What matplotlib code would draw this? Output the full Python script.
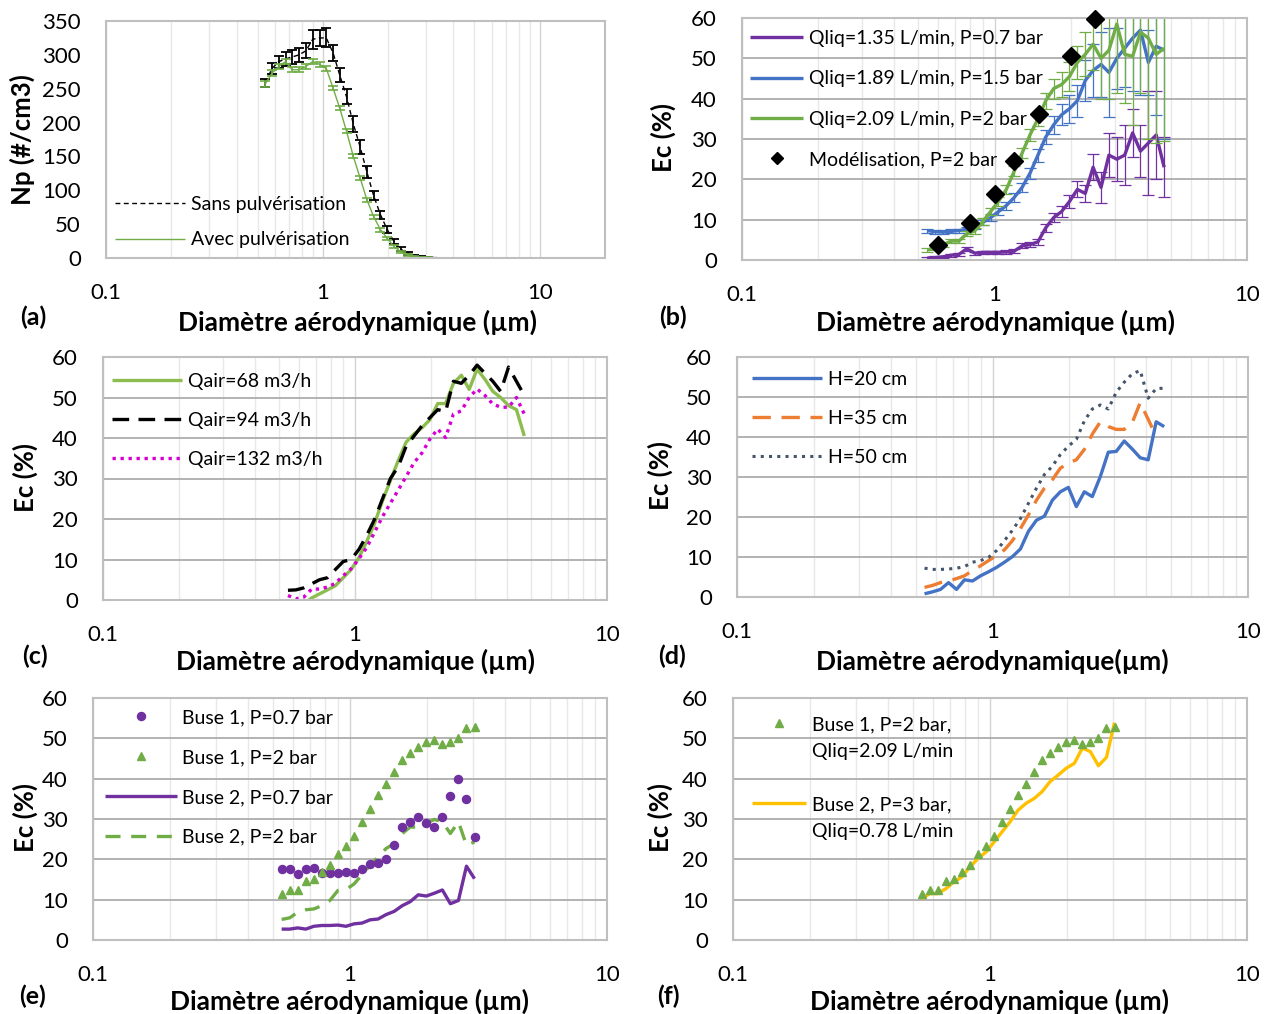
import numpy as np
import matplotlib
matplotlib.use('Agg')
import matplotlib.pyplot as plt
from matplotlib.lines import Line2D
from matplotlib.ticker import FixedLocator, LogLocator, NullFormatter, FuncFormatter

# APS size channels (µm)
diam = [0.542, 0.583, 0.626, 0.673, 0.723, 0.777, 0.835, 0.898, 0.965, 1.037,
        1.114, 1.197, 1.286, 1.382, 1.486, 1.596, 1.715, 1.843, 1.981, 2.129,
        2.288, 2.458, 2.642, 2.839, 3.051, 3.278, 3.523, 3.786, 4.068, 4.371, 4.698]
diam_tail = [5.048, 5.425, 5.829, 6.264, 6.732, 7.234, 7.774, 8.354, 8.977, 9.647,
             10.37, 11.14, 11.97, 12.86, 13.82, 14.86, 15.96, 17.15]

# (a) number concentration
np_sans = [258, 280, 290, 294, 297, 300, 306, 323, 325, 325, 303, 270, 238, 198, 164,
           127, 92, 64, 42, 24, 13, 7, 3.5, 1.8, 1.0,
           0.6, 0.4, 0.3, 0.2, 0.15, 0.1, 0.08, 0.06, 0.05, 0.04, 0.03, 0.03, 0.02,
           0.02, 0.02, 0.01, 0.01, 0.01, 0.01, 0.01, 0, 0, 0, 0]
np_avec = [257, 273, 283, 290, 278, 278, 283, 290, 286, 280, 251, 221, 187, 150, 118,
           86, 61, 42, 29, 17, 9, 5, 2.5, 1.2, 0.6,
           0.4, 0.3, 0.2, 0.15, 0.1, 0.08, 0.06, 0.05, 0.04, 0.03, 0.03, 0.02, 0.02,
           0.02, 0.01, 0.01, 0.01, 0.01, 0.01, 0, 0, 0, 0, 0]
err_sans = [6, 8, 9, 10, 10, 10, 11, 14, 12, 14, 12, 10, 11, 12, 10, 9, 7, 6, 5, 4,
            3, 2, 1.5, 1, 0.8]
err_avec = [5, 4, 4, 4, 4, 4, 4, 4, 4, 4, 3, 3, 3, 3, 3, 3, 3, 3, 2.5, 2, 2, 1.5, 1,
            0.8, 0.5]

# (b) liquid flow / pressure
ec_q135 = [0.5, 0.6, 0.8, 1.2, 1.4, 2.8, 1.7, 1.9, 1.9, 1.9, 2.0, 2.2, 3.5, 3.8, 4.5,
           8.0, 10.5, 12.0, 14.5, 17.5, 16.5, 23.0, 18.0, 26.0, 25.0, 26.0, 31.5,
           27.0, 29.0, 31.0, 23.0]
err_q135 = [0.3, 0.3, 0.3, 0.4, 0.4, 0.5, 0.4, 0.4, 0.4, 0.4, 0.4, 0.5, 0.6, 0.6, 0.8,
            1.0, 1.2, 1.4, 1.6, 2.0, 2.2, 3.2, 3.8, 5.5, 5.5, 7.5, 6.0, 6.5, 13.0,
            11.0, 7.5]
ec_q189 = [7.3, 7.0, 6.9, 7.1, 7.3, 7.6, 8.2, 9.3, 10.5, 12.0, 13.5, 15.5, 18.0, 21.5,
           26.0, 30.5, 33.5, 36.0, 37.5, 39.5, 44.5, 47.0, 48.5, 46.5, 50.0, 52.5,
           55.0, 57.0, 49.0, 53.0, 52.0]
err_q189 = [0.5, 0.5, 0.5, 0.5, 0.5, 0.5, 0.6, 0.7, 0.8, 0.9, 1.0, 1.1, 1.2, 1.4, 1.6,
            1.8, 2.2, 2.6, 3.5, 4.0, 5.0, 6.5, 8.0, 11.0, 7.5, 9.5, 13.0, 16.0, 8.0,
            17.0, 22.0]
ec_q209 = [2.5, 2.8, 3.8, 4.7, 4.7, 6.5, 7.2, 9.5, 12.0, 14.5, 17.5, 22.0, 26.5, 31.0,
           35.0, 39.5, 42.5, 43.5, 45.5, 49.0, 51.0, 53.5, 50.0, 52.0, 58.5, 51.0,
           50.5, 56.5, 55.0, 51.0, 52.5]
err_q209 = [0.4, 0.4, 0.5, 0.5, 0.6, 0.6, 0.7, 0.8, 0.9, 1.0, 1.1, 1.2, 1.3, 1.5, 1.7,
            2.0, 2.5, 3.0, 3.5, 4.0, 5.5, 6.5, 10.0, 12.0, 17.0, 12.0, 17.0, 15.0,
            25.0, 22.0, 23.0]
model_d = [0.6, 0.8, 1.0, 1.2, 1.5, 2.0, 2.5]
model_ec = [3.6, 9.1, 16.4, 24.6, 36.2, 50.7, 59.8]

# (c) air flow
ec_air68 = [-3.0, -2.5, -1.0, 0.5, 1.5, 2.5, 3.5, 5.5, 7.5, 10.5, 14.5, 19.0, 24.5,
            29.5, 34.5, 39.0, 41.0, 42.5, 44.5, 48.5, 48.5, 53.5, 55.5, 52.0, 57.0,
            54.5, 51.5, 50.0, 48.0, 47.0, 40.5]
ec_air94 = [2.4, 2.5, 3.0, 4.0, 5.0, 5.5, 7.5, 9.5, 10.0, 12.5, 16.0, 20.0, 25.0, 30.0,
            33.0, 38.0, 40.5, 43.0, 45.0, 47.0, 46.5, 54.0, 53.5, 55.5, 58.0, 56.0,
            54.0, 51.5, 57.5, 54.0, 50.5]
ec_air132 = [1.1, 0.3, 0.7, 2.7, 2.7, 3.2, 4.1, 6.0, 7.7, 10.2, 13.0, 16.8, 20.6, 23.9,
             27.2, 30.5, 33.9, 36.3, 39.7, 42.2, 40.1, 45.9, 46.7, 50.0, 52.1, 50.5,
             48.4, 47.6, 47.6, 50.0, 45.9]

# (d) height
ec_h20 = [0.8, 1.3, 1.9, 3.6, 1.9, 4.3, 4.0, 5.3, 6.3, 7.4, 8.7, 10.1, 12.0, 16.4, 19.2,
          20.2, 24.2, 26.3, 27.4, 22.6, 26.3, 25.1, 30.1, 36.2, 36.4, 39.0, 37.0,
          34.8, 34.3, 43.8, 42.6]
ec_h35 = [2.4, 2.9, 3.6, 4.0, 4.6, 5.3, 6.6, 7.8, 9.1, 10.4, 11.8, 14.1, 17.1, 20.5,
          24.2, 27.2, 29.3, 32.2, 33.5, 34.3, 36.9, 40.7, 43.8, 42.6, 41.9, 41.9,
          43.6, 48.6, 44.4, 40.2, np.nan]
ec_h50 = [7.2, 6.9, 6.9, 7.0, 7.2, 7.6, 8.7, 9.1, 9.9, 11.6, 14.1, 16.7, 19.6, 23.4,
          27.2, 30.6, 32.7, 35.6, 37.7, 39.4, 44.0, 47.0, 48.0, 47.0, 51.2, 53.7,
          55.8, 56.6, 49.7, 52.1, 52.2]

# (e) and (f) nozzles (first 25 channels)
ec_b1_07 = [17.5, 17.5, 16.4, 17.5, 17.9, 16.6, 16.6, 16.6, 16.8, 16.6, 17.5, 18.8,
            19.1, 20.2, 23.5, 28.0, 29.3, 30.4, 29.1, 28.0, 30.4, 35.7, 40.0, 34.9, 25.6]
ec_b1_2 = [11.5, 12.4, 12.5, 14.6, 15.2, 16.8, 18.5, 21.2, 23.2, 25.9, 29.3, 32.5, 35.9,
           38.8, 41.6, 44.6, 46.3, 47.8, 49.0, 49.6, 48.7, 49.0, 50.0, 52.5, 52.7]
ec_b2_07 = [2.7, 2.7, 3.0, 2.7, 3.4, 3.6, 3.6, 3.7, 3.4, 4.0, 4.2, 5.0, 5.2, 6.3, 7.1,
            8.5, 9.5, 11.2, 10.9, 11.6, 12.4, 9.0, 9.8, 18.3, 15.2]
ec_b2_2 = [5.1, 5.5, 6.9, 7.5, 7.7, 8.5, 9.8, 12.3, 12.5, 13.9, 16.2, 18.5, 20.6, 22.7,
           23.9, 26.4, 28.0, 28.0, 28.9, 29.9, 29.3, 26.4, 29.3, 23.5, 24.3]
ec_b2_3 = [10.2, 11.5, 11.5, 12.7, 14.4, 15.6, 18.1, 20.2, 21.8, 24.3, 26.8, 29.3, 32.2,
           33.9, 35.1, 36.8, 39.3, 40.9, 42.6, 43.8, 47.6, 46.7, 43.2, 45.3, 53.9]

W, H = 1271, 1014
plt.rcParams['font.family'] = ['Lato', 'DejaVu Sans']
plt.rcParams['lines.solid_capstyle'] = 'butt'

fig = plt.figure(figsize=(W / 100, H / 100), dpi=100)

XLAB = 'Diamètre aérodynamique (µm)'


def make_ax(left, top, right, bottom):
    return fig.add_axes([left / W, 1 - bottom / H, (right - left) / W, (bottom - top) / H])


def style(ax, xmax, ymax, ystep, hgrid=True):
    ax.set_xscale('log')
    ax.set_xlim(0.1, xmax)
    ax.set_ylim(0, ymax)
    ax.xaxis.set_major_locator(FixedLocator([0.1, 1, 10]))
    ax.xaxis.set_major_formatter(FuncFormatter(lambda v, p: '%g' % v))
    ax.xaxis.set_minor_locator(LogLocator(base=10, subs=np.arange(2, 10)))
    ax.xaxis.set_minor_formatter(NullFormatter())
    ax.set_yticks(np.arange(0, ymax + 1, ystep))
    ax.tick_params(axis='both', which='both', length=0, labelsize=16)
    ax.tick_params(axis='x', pad=18)
    ax.tick_params(axis='y', pad=18)
    ax.grid(which='minor', axis='x', color='#E8E8E8', lw=1)
    ax.grid(which='major', axis='x', color='#D4D4D4', lw=1)
    if hgrid:
        ax.grid(which='major', axis='y', color='#A6A6A6', lw=1.2)
    for s in ax.spines.values():
        s.set_color('#BFBFBF')
        s.set_linewidth(1.5)
    ax.set_axisbelow(True)


def texts(xc, ylab, yl_x, yl_y, letter, let_x, row_y, xlabel=XLAB):
    fig.text(xc / W, 1 - row_y / H, xlabel, ha='center', va='center',
             fontsize=19, fontweight='bold')
    fig.text(let_x / W, 1 - (row_y - 5) / H, letter, ha='center', va='center',
             fontsize=18, fontweight='bold')
    fig.text(yl_x / W, 1 - yl_y / H, ylab, ha='center', va='center', rotation=90,
             fontsize=18.5, fontweight='bold')


def legend_at(ax, handles, labels, x, y, hl, tp, ls, **kw):
    return ax.legend(handles, labels, loc='upper left',
                     bbox_to_anchor=(x / W, 1 - y / H), bbox_transform=fig.transFigure,
                     frameon=False, borderpad=0, borderaxespad=0, fontsize=14,
                     handlelength=hl, handletextpad=tp, labelspacing=ls,
                     numpoints=1, **kw)


# ---- (a)
ax = make_ax(106, 21, 605, 258)
style(ax, 20, 350, 50, hgrid=False)
diam_a = diam + diam_tail
la, = ax.plot(diam_a, np_sans, color='black', lw=1.0, ls=(0, (3.5, 2.5)))
ax.errorbar(diam[:25], np_sans[:25], yerr=err_sans, fmt='none', ecolor='black',
            elinewidth=1.3, capsize=3.6, capthick=1.3)
lb, = ax.plot(diam_a, np_avec, color='#70AD47', lw=1.0)
ax.errorbar(diam[:25], np_avec[:25], yerr=err_avec, fmt='none', ecolor='#70AD47',
            elinewidth=1.2, capsize=3.6, capthick=1.2)
legend_at(ax, [la, lb], ['Sans pulvérisation', 'Avec pulvérisation'], 115, 196,
          3.6, 0.3, 0.95)
texts(358, 'Np (#/cm3)', 22, 140, '(a)', 33, 322)

# ---- (b)
ax = make_ax(742, 18, 1247, 260)
style(ax, 10, 60, 10)
cols_b = ['#7030A0', '#4472C4', '#70AD47']
hb = []
for y, e, c in zip([ec_q135, ec_q189, ec_q209], [err_q135, err_q189, err_q209], cols_b):
    ax.errorbar(diam, y, yerr=e, fmt='none', ecolor=c, elinewidth=0.9, capsize=4,
                capthick=0.9)
    l, = ax.plot(diam, y, color=c, lw=2.4, solid_joinstyle='round')
    hb.append(l)
lm, = ax.plot(model_d, model_ec, ls='none', marker='D', ms=9, color='black',
              clip_on=False, zorder=5)
hb.append(lm)
legend_at(ax, hb, ['Qliq=1.35 L/min, P=0.7 bar', 'Qliq=1.89 L/min, P=1.5 bar',
                   'Qliq=2.09 L/min, P=2 bar', 'Modélisation, P=2 bar'],
          750, 30, 2.75, 0.3, 1.2, markerscale=0.65)
texts(995, 'Ec (%)', 663, 137, '(b)', 673, 322)

# ---- (c)
ax = make_ax(103, 357, 607, 600)
style(ax, 10, 60, 10)
l1, = ax.plot(diam, ec_air68, color='#8CBD4E', lw=2.4)
l2, = ax.plot(diam, ec_air94, color='black', lw=2.4, ls=(0, (5, 2.8)))
l3, = ax.plot(diam, ec_air132, color='#D400D4', lw=2.4, ls=(0, (1, 1.4)))
legend_at(ax, [l1, l2, l3], ['Qair=68 m3/h', 'Qair=94 m3/h', 'Qair=132 m3/h'],
          112, 373, 3.6, 0.3, 1.13)
texts(355, 'Ec (%)', 25, 478, '(c)', 35, 661)

# ---- (d)
ax = make_ax(737, 357, 1248, 597)
style(ax, 10, 60, 10)
l1, = ax.plot(diam, ec_h20, color='#4472C4', lw=2.4)
l2, = ax.plot(diam, ec_h35, color='#ED7D31', lw=2.4, ls=(0, (5.5, 3.2)))
l3, = ax.plot(diam, ec_h50, color='#44546A', lw=2.2, ls=(0, (1, 1.7)))
legend_at(ax, [l1, l2, l3], ['H=20 cm', 'H=35 cm', 'H=50 cm'],
          752, 371, 3.6, 0.3, 1.13)
texts(992, 'Ec (%)', 660, 476, '(d)', 672, 661,
      xlabel='Diamètre aérodynamique(µm)')

# ---- (e)
d25 = diam[:25]
ax = make_ax(93, 698, 607, 940)
style(ax, 10, 60, 10)
l3, = ax.plot(d25, ec_b2_07, color='#7030A0', lw=2.4)
l4, = ax.plot(d25, ec_b2_2, color='#70AD47', lw=2.4, ls=(0, (4.5, 3.2)))
l1, = ax.plot(d25, ec_b1_07, ls='none', marker='o', ms=5.8, color='#7030A0')
l2, = ax.plot(d25, ec_b1_2, ls='none', marker='^', ms=5.5, color='#70AD47')
legend_at(ax, [l1, l2, l3, l4], ['Buse 1, P=0.7 bar', 'Buse 1, P=2 bar',
                                 'Buse 2, P=0.7 bar', 'Buse 2, P=2 bar'],
          105, 709, 3.7, 0.27, 1.18)
texts(350, 'Ec (%)', 25, 818, '(e)', 33, 1001)

# ---- (f)
ax = make_ax(733, 698, 1247, 940)
style(ax, 10, 60, 10)
l2, = ax.plot(d25, ec_b2_3, color='#FFC000', lw=2.4)
l1, = ax.plot(d25, ec_b1_2, ls='none', marker='^', ms=5.5, color='#70AD47')
blank = Line2D([], [], ls='none')
leg1 = legend_at(ax, [l1, blank], ['Buse 1, P=2 bar,', 'Qliq=2.09 L/min'],
                 752, 716, 2.8, 0.3, 0.5)
ax.add_artist(leg1)
legend_at(ax, [l2, blank], ['Buse 2, P=3 bar,', 'Qliq=0.78 L/min'],
          752, 796, 2.8, 0.3, 0.5)
texts(990, 'Ec (%)', 660, 818, '(f)', 668, 1001)

fig.savefig('out.png', dpi=100)
